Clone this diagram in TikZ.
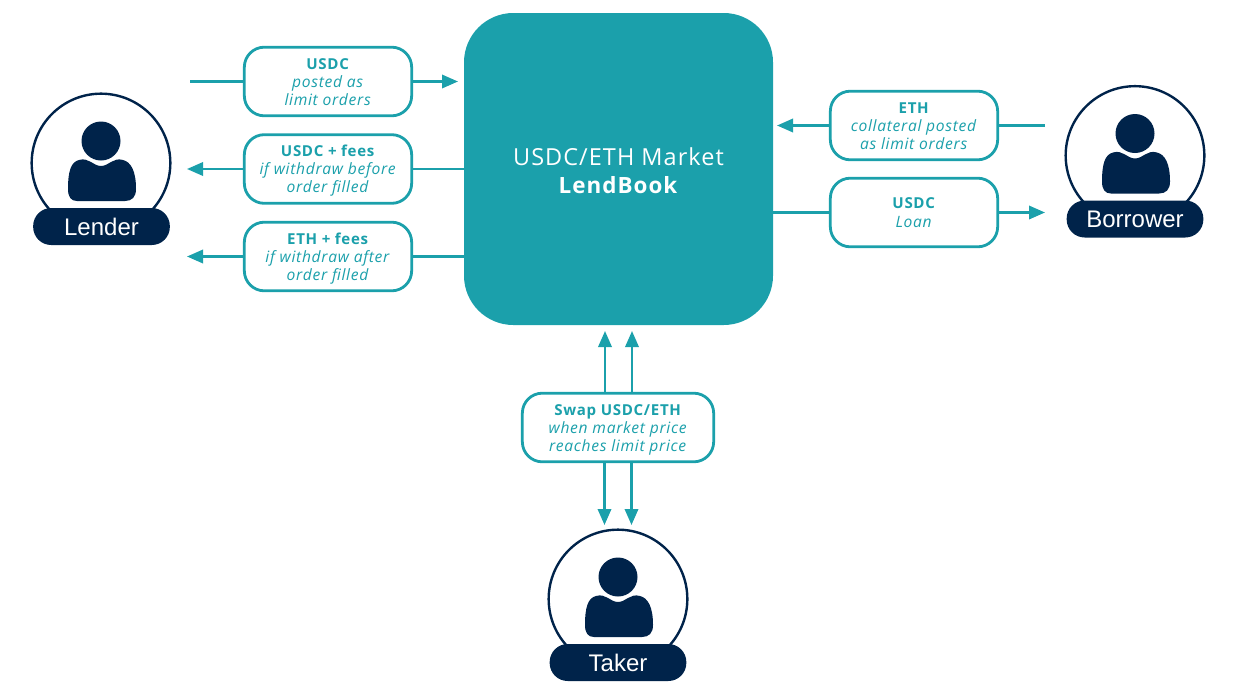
\documentclass[tikz,border=0pt]{standalone}
\usepackage{fontspec}
\setmainfont[LetterSpace=4.5]{Open Sans}
\newfontfamily\namefont{Liberation Sans}
\usetikzlibrary{arrows.meta,positioning,calc}
\definecolor{Verdigris}{RGB}{27,160,171}
\definecolor{NavyDark}{RGB}{0,35,74}
\newcommand{\flowhead}[1]{\rule{0pt}{11.5pt}\textbf{#1}}
\newcommand{\flownote}[1]{{\fontsize{11.7}{13.5}\selectfont\textit{#1}}}
\newcommand{\flowlast}[1]{\rule[-3.2pt]{0pt}{3.2pt}\flownote{#1}}
\tikzset{
  flowbox/.style={draw=Verdigris, line width=2.1pt, rounded corners=15pt, fill=white, text=Verdigris, minimum width=125.5pt, minimum height=51.5pt, inner sep=0pt, outer sep=0pt, align=center, font=\fontsize{11.3}{13.5}\selectfont},
  flow/.style={line width=1.8pt, Verdigris, -{Triangle[length=12pt,width=10pt]}},
  link/.style={line width=1.8pt, Verdigris},
  avatar/.style={draw=NavyDark, line width=1.8pt, circle, fill=white, minimum size=104pt, inner sep=0pt, outer sep=0pt},
  namepill/.style={fill=NavyDark, text=white, rounded corners=13.5pt, minimum width=102.5pt, minimum height=27.75pt, inner sep=0pt, outer sep=0pt, font=\namefont\fontsize{18}{20}\selectfont},
  person/.pic={
    \fill[NavyDark] (0,-22) circle (19.5);
    \fill[NavyDark] (-22,-3) .. controls (-12,-6) and (-8,3) .. (0,3)
      .. controls (8,3) and (12,-6) .. (22,-3)
      .. controls (30,-1) and (35,8) .. (35,26)
      .. controls (35,34) and (31,38) .. (24,38)
      -- (-24,38)
      .. controls (-30,38) and (-33,34) .. (-33,26)
      .. controls (-33,8) and (-30,-1) .. (-22,-3) -- cycle;
  }
}
\begin{document}
\begin{tikzpicture}[x=0.75pt, y=-0.75pt]
  \useasboundingbox (0,0) rectangle (1234,693);
  \node[fill=Verdigris, rounded corners=37pt, minimum width=231.75pt, minimum height=234pt, inner sep=0pt, outer sep=0pt, text=white, align=center, font=\fontsize{17.6}{21}\selectfont] (market) at (618.5,169)
    {\rule{0pt}{16pt}USDC/ETH Market\\{\fontsize{16.8}{21}\selectfont\textbf{LendBook}}};

  % lender side
  \node[flowbox] (posted) at (328,81.5) {\flowhead{USDC}\\\flownote{posted as}\\\flowlast{limit orders}};
  \node[flowbox] (before) at (328,169) {\flowhead{USDC + fees}\\\flownote{if withdraw before}\\\flowlast{order filled}};
  \node[flowbox] (after) at (328,256.5) {\flowhead{ETH + fees}\\\flownote{if withdraw after}\\\flowlast{order filled}};
  % borrower side
  \node[flowbox] (collateral) at (914,125.5) {\flowhead{ETH}\\\flownote{collateral posted}\\\flowlast{as limit orders}};
  \node[flowbox] (loan) at (914,212.5) {\flowhead{USDC}\\[1pt]\flowlast{Loan}};
  % taker side
  \node[flowbox, minimum width=143.5pt] (swap) at (618,427.5) {\flowhead{Swap USDC/ETH}\\\flownote{when market price}\\\flowlast{reaches limit price}};

  \node[avatar] (lender) at (101,163) {};
  \pic at (lender.center) {person};
  \node[namepill] (lenderName) at (101.5,226.5) {Lender};
  \node[avatar] (borrower) at (1135,155.5) {};
  \pic at (borrower.center) {person};
  \node[namepill] (borrowerName) at (1135,219) {Borrower};
  \node[avatar] (taker) at (618,599) {};
  \pic at (taker.center) {person};
  \node[namepill] (takerName) at (618,662.5) {Taker};

  \coordinate (lenderOut) at (190,81.5);
  \coordinate (marketIn) at (458,81.5);
  \coordinate (lenderBack) at (187,169);
  \coordinate (lenderEth) at (187,256.5);
  \coordinate (borrowerOut) at (1045,125.5);
  \coordinate (marketColl) at (777,125.5);
  \coordinate (borrowerIn) at (1045,212.5);

  \draw[link] (lenderOut) -- (posted.west);
  \draw[flow] (posted.east) -- (marketIn);
  \draw[link] (before.east -| market.west) -- (before.east);
  \draw[flow] (before.west) -- (lenderBack);
  \draw[link] (after.east -| market.west) -- (after.east);
  \draw[flow] (after.west) -- (lenderEth);
  \draw[link] (borrowerOut) -- (collateral.east);
  \draw[flow] (collateral.west) -- (marketColl);
  \draw[link] (loan.west -| market.east) -- (loan.west);
  \draw[flow] (loan.east) -- (borrowerIn);

  \coordinate (swapUpA) at (605,331);
  \coordinate (swapUpB) at (632,331);
  \coordinate (swapDownA) at (604.5,525);
  \coordinate (swapDownB) at (631.5,525);
  \draw[flow] (swapUpA |- swap.north) -- (swapUpA);
  \draw[flow] (swapUpB |- swap.north) -- (swapUpB);
  \draw[flow] (swapDownA |- swap.south) -- (swapDownA);
  \draw[flow] (swapDownB |- swap.south) -- (swapDownB);
\end{tikzpicture}
\end{document}
